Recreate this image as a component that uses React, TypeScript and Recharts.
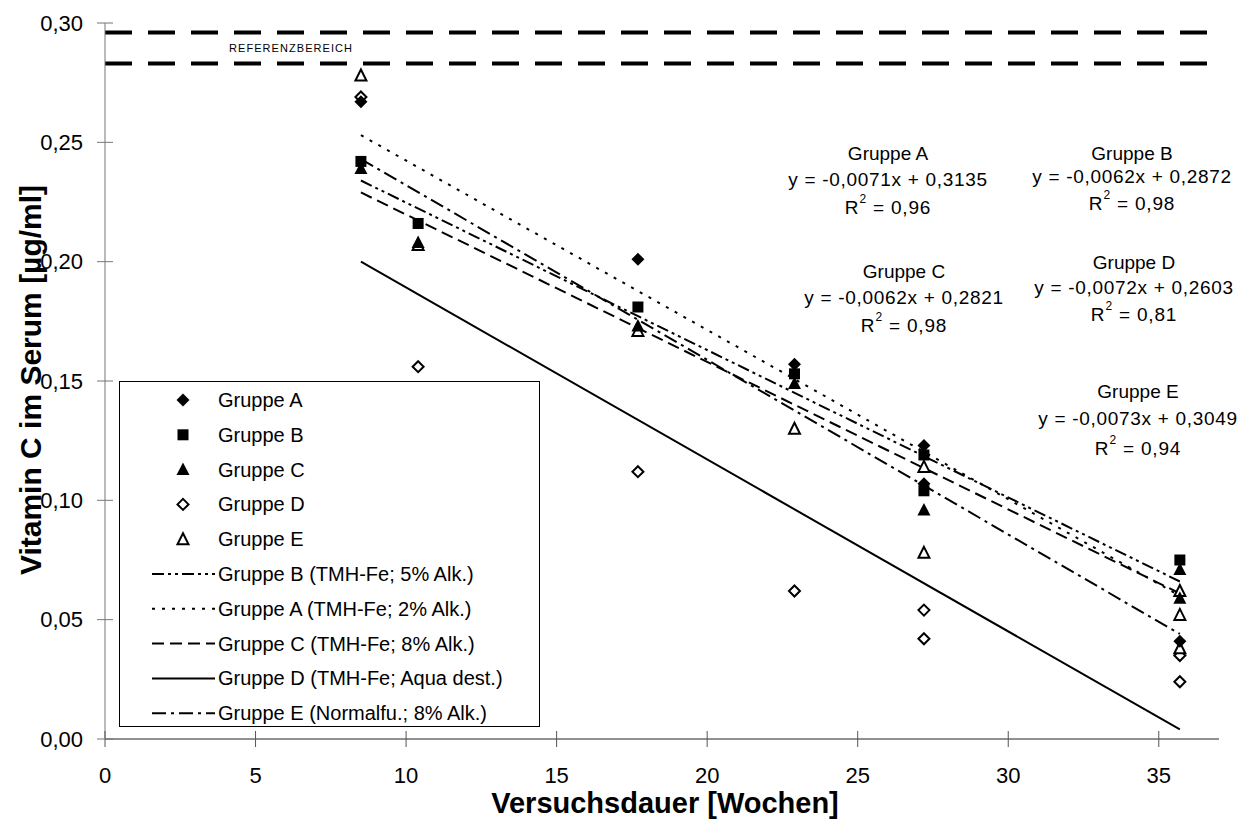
import {
  ComposedChart,
  Legend,
  ReferenceLine,
  Scatter,
  XAxis,
  YAxis
} from "recharts";

// measured values, [week, µg/ml]
const groupA = [[8.5, 0.267], [17.7, 0.201], [22.9, 0.157], [27.2, 0.123], [27.2, 0.107], [35.7, 0.041]];
const groupB = [[8.5, 0.242], [10.4, 0.216], [17.7, 0.181], [22.9, 0.153], [27.2, 0.119], [27.2, 0.104], [35.7, 0.075]];
const groupC = [[8.5, 0.239], [10.4, 0.208], [17.7, 0.173], [22.9, 0.149], [27.2, 0.096], [35.7, 0.071], [35.7, 0.059]];
const groupD = [[8.5, 0.269], [10.4, 0.156], [17.7, 0.112], [22.9, 0.062], [27.2, 0.054], [27.2, 0.042], [35.7, 0.035], [35.7, 0.024]];
const groupE = [[8.5, 0.278], [10.4, 0.207], [17.7, 0.171], [22.9, 0.130], [27.2, 0.114], [27.2, 0.078], [35.7, 0.062], [35.7, 0.052], [35.7, 0.038]];

// trend lines, start and end
const trendA = [[8.5, 0.253], [35.7, 0.060]];
const trendB = [[8.5, 0.234], [35.7, 0.066]];
const trendC = [[8.5, 0.229], [35.7, 0.061]];
const trendD = [[8.5, 0.200], [35.7, 0.004]];
const trendE = [[8.5, 0.243], [35.7, 0.044]];

const referenceBand = [0.283, 0.296];

const xTicks = [0, 5, 10, 15, 20, 25, 30, 35];
const yTicks = [0, 0.05, 0.1, 0.15, 0.2, 0.25, 0.3];

const equations = [
  { name: "Gruppe A", eq: "y = -0,0071x + 0,3135", r2: "0,96" },
  { name: "Gruppe B", eq: "y = -0,0062x + 0,2872", r2: "0,98" },
  { name: "Gruppe C", eq: "y = -0,0062x + 0,2821", r2: "0,98" },
  { name: "Gruppe D", eq: "y = -0,0072x + 0,2603", r2: "0,81" },
  { name: "Gruppe E", eq: "y = -0,0073x + 0,3049", r2: "0,94" }
];

const markerLabels = ["Gruppe A", "Gruppe B", "Gruppe C", "Gruppe D", "Gruppe E"];
const lineLabels = [
  "Gruppe B (TMH-Fe; 5% Alk.)",
  "Gruppe A (TMH-Fe; 2% Alk.)",
  "Gruppe C (TMH-Fe; 8% Alk.)",
  "Gruppe D (TMH-Fe; Aqua dest.)",
  "Gruppe E (Normalfu.; 8% Alk.)"
];

const FONT = "'Liberation Sans', Arial, sans-serif";
const DASH = { A: "3 7", B: "12 4 3 4 3 4", C: "12 6", D: "", E: "14 5 3 5" };

// where the equation blocks sit (x centre, y of the three rows)
const eqPos = [
  { x: 880, y: [145, 171, 199] },
  { x: 1124, y: [145, 168, 195] },
  { x: 896, y: [263, 289, 317] },
  { x: 1126, y: [254, 279, 306] },
  { x: 1130, y: [383, 410, 440] }
];

const toPts = (arr: number[][]) => arr.map(([x, y]) => ({ x, y }));
const fmtY = (v: number) => v.toFixed(2).replace(".", ",");

type P = { cx?: number; cy?: number };

function FilledDiamond({ cx = 0, cy = 0 }: P) {
  const r = 6.5;
  return <path d={`M${cx},${cy - r}L${cx + r},${cy}L${cx},${cy + r}L${cx - r},${cy}Z`} fill="#000" />;
}
function FilledSquare({ cx = 0, cy = 0 }: P) {
  return <rect x={cx - 5.5} y={cy - 5.5} width={11} height={11} fill="#000" />;
}
function FilledTriangle({ cx = 0, cy = 0 }: P) {
  return <path d={`M${cx},${cy - 7}L${cx + 6.5},${cy + 5.5}L${cx - 6.5},${cy + 5.5}Z`} fill="#000" />;
}
function OpenDiamond({ cx = 0, cy = 0 }: P) {
  const r = 5.5;
  return (
    <path
      d={`M${cx},${cy - r}L${cx + r},${cy}L${cx},${cy + r}L${cx - r},${cy}Z`}
      fill="#fff"
      stroke="#000"
      strokeWidth={2}
    />
  );
}
function OpenTriangle({ cx = 0, cy = 0 }: P) {
  return (
    <path
      d={`M${cx},${cy - 6}L${cx + 5.5},${cy + 5}L${cx - 5.5},${cy + 5}Z`}
      fill="#fff"
      stroke="#000"
      strokeWidth={2}
      strokeLinejoin="miter"
    />
  );
}

const markerShapes = [FilledDiamond, FilledSquare, FilledTriangle, OpenDiamond, OpenTriangle];
const lineDashes = [DASH.B, DASH.A, DASH.C, DASH.D, DASH.E];

function YTick(props: any) {
  const { x, y, payload } = props;
  return (
    <g>
      <line x1={x + 14} x2={x + 30} y1={y} y2={y} stroke="#777" />
      <text x={x} y={y} textAnchor="end" dominantBaseline="central" fontSize={22} fill="#000" fontFamily={FONT}>
        {fmtY(payload.value)}
      </text>
    </g>
  );
}

function XTick(props: any) {
  const { x, y, payload } = props;
  return (
    <g>
      <line x1={x} x2={x} y1={y - 36} y2={y - 20} stroke="#555" />
      <text x={x} y={y} dy="0.71em" textAnchor="middle" fontSize={22} fill="#000" fontFamily={FONT}>
        {payload.value}
      </text>
    </g>
  );
}

function LegendBox() {
  const rowY = (i: number) => 19 + i * 34.8;
  return (
    <svg width={421} height={346} style={{ display: "block" }}>
      <rect x={0.5} y={0.5} width={420} height={345} fill="#fff" stroke="#000" />
      {markerLabels.map((label, i) => {
        const Shape = markerShapes[i];
        return (
          <g key={label}>
            <Shape cx={64} cy={rowY(i)} />
            <text x={99} y={rowY(i)} dominantBaseline="central" fontSize={20} fontFamily={FONT}>
              {label}
            </text>
          </g>
        );
      })}
      {lineLabels.map((label, j) => {
        const y = rowY(j + 5);
        return (
          <g key={label}>
            <line x1={33} x2={96} y1={y} y2={y} stroke="#000" strokeWidth={2} strokeDasharray={lineDashes[j]} />
            <text x={99} y={y} dominantBaseline="central" fontSize={20} fontFamily={FONT}>
              {label}
            </text>
          </g>
        );
      })}
    </svg>
  );
}

const trendStyle = (dash: string) => ({ stroke: "#000", strokeWidth: 2, strokeDasharray: dash || undefined });
const noShape = () => <g />;

export default function App() {
  return (
    <div style={{ position: "relative", width: 1235, height: 816, fontFamily: FONT, background: "#fff" }}>
      <ComposedChart width={1235} height={808} margin={{ top: 15, right: 24, bottom: 17, left: 7 }}>
        <XAxis
          type="number"
          dataKey="x"
          domain={[0, 37]}
          ticks={xTicks}
          allowDataOverflow
          stroke="#222"
          tickLine={false}
          tickSize={8}
          tickMargin={20}
          height={60}
          tick={<XTick />}
        />
        <YAxis
          type="number"
          dataKey="y"
          domain={[0, 0.3]}
          ticks={yTicks}
          allowDataOverflow
          stroke="#777"
          tickLine={false}
          tickSize={8}
          tickMargin={14}
          width={90}
          tick={<YTick />}
        />
        {referenceBand.map((v) => (
          <ReferenceLine key={v} y={v} stroke="#000" strokeWidth={4} strokeDasharray="27 16" />
        ))}
        <Scatter data={toPts(trendB)} line={trendStyle(DASH.B)} shape={noShape} isAnimationActive={false} legendType="none" />
        <Scatter data={toPts(trendA)} line={trendStyle(DASH.A)} shape={noShape} isAnimationActive={false} legendType="none" />
        <Scatter data={toPts(trendC)} line={trendStyle(DASH.C)} shape={noShape} isAnimationActive={false} legendType="none" />
        <Scatter data={toPts(trendD)} line={trendStyle(DASH.D)} shape={noShape} isAnimationActive={false} legendType="none" />
        <Scatter data={toPts(trendE)} line={trendStyle(DASH.E)} shape={noShape} isAnimationActive={false} legendType="none" />
        <Scatter data={toPts(groupD)} shape={<OpenDiamond />} isAnimationActive={false} legendType="none" />
        <Scatter data={toPts(groupE)} shape={<OpenTriangle />} isAnimationActive={false} legendType="none" />
        <Scatter data={toPts(groupC)} shape={<FilledTriangle />} isAnimationActive={false} legendType="none" />
        <Scatter data={toPts(groupB)} shape={<FilledSquare />} isAnimationActive={false} legendType="none" />
        <Scatter data={toPts(groupA)} shape={<FilledDiamond />} isAnimationActive={false} legendType="none" />
        <Legend
          layout="vertical"
          align="center"
          verticalAlign="middle"
          content={() => <LegendBox />}
          wrapperStyle={{ left: 111, top: 373, width: 421, height: 346 }}
        />
      </ComposedChart>
      <svg
        width={1235}
        height={816}
        style={{ position: "absolute", left: 0, top: 0, pointerEvents: "none" }}
        fontFamily={FONT}
      >
        <text
          x={221}
          y={40}
          dominantBaseline="central"
          fontSize={11}
          fontFamily="'Liberation Sans Narrow', 'Liberation Sans', Arial, sans-serif"
          textLength={123}
          lengthAdjust="spacing"
        >
          REFERENZBEREICH
        </text>
        {equations.map((e, i) => (
          <g key={e.name} fontSize={19} textAnchor="middle">
            <text x={eqPos[i].x} y={eqPos[i].y[0]} dominantBaseline="central">{e.name}</text>
            <text x={eqPos[i].x} y={eqPos[i].y[1]} dominantBaseline="central" letterSpacing={0.7}>{e.eq}</text>
            <text x={eqPos[i].x} y={eqPos[i].y[2]} dominantBaseline="central" letterSpacing={0.8}>
              R<tspan fontSize={12} dy={-8}>2</tspan>
              <tspan dy={8}> = {e.r2}</tspan>
            </text>
          </g>
        ))}
        <text
          x={22}
          y={372}
          transform="rotate(-90 22 372)"
          textAnchor="middle"
          dominantBaseline="central"
          fontSize={30}
          fontWeight="bold"
        >
          Vitamin C im Serum [µg/ml]
        </text>
        <text x={657} y={795} textAnchor="middle" dominantBaseline="central" fontSize={29} fontWeight="bold">
          Versuchsdauer [Wochen]
        </text>
      </svg>
    </div>
  );
}
